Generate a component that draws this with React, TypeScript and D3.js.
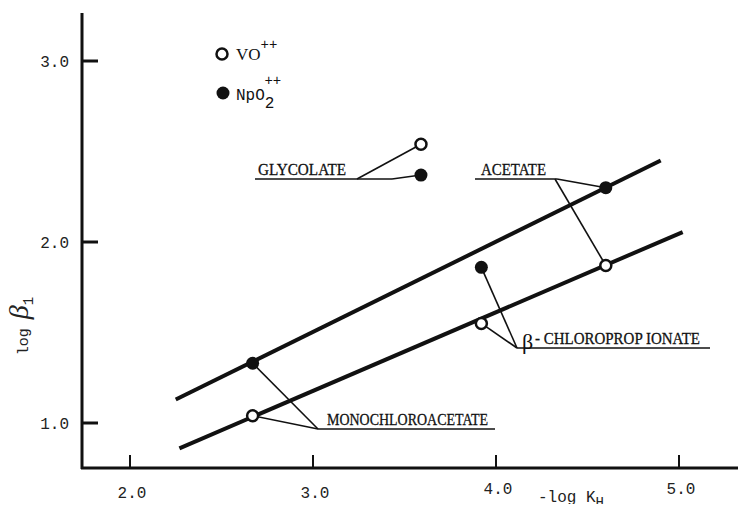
import { useRef, useEffect } from "react";
import * as d3 from "d3";

// ligands, -log K_H and log beta_1 for the two ions
const ligands = ["GLYCOLATE", "ACETATE", "CHLOROPROP", "MONOCHLOROACETATE"];
const pKH = [3.59, 4.6, 3.92, 2.67];
const logBetaVO = [2.54, 1.87, 1.55, 1.04];
const logBetaNp = [2.37, 2.3, 1.86, 1.33];

// the two fitted straight lines (end points)
const fitVO: [number, number][] = [
  [2.27, 0.86],
  [5.02, 2.055],
];
const fitNp: [number, number][] = [
  [2.25, 1.13],
  [4.9, 2.45],
];

const xTicks = [2, 3, 4, 5];
const yTicks = [1, 2, 3];

// label placement (pixels): underline, text start/width, where leaders start
const labelLayout: Record<
  string,
  { ux0: number; ux1: number; uy: number; tx: number; tw: number; np: [number, number]; vo: [number, number] }
> = {
  GLYCOLATE: { ux0: 255, ux1: 392, uy: 179, tx: 258, tw: 88, np: [392, 179], vo: [357, 179] },
  ACETATE: { ux0: 475, ux1: 557, uy: 179, tx: 481, tw: 65, np: [557, 179], vo: [555, 179] },
  CHLOROPROP: { ux0: 517, ux1: 710, uy: 348, tx: 535, tw: 165, np: [517, 348], vo: [517, 348] },
  MONOCHLOROACETATE: { ux0: 318, ux1: 495, uy: 429, tx: 327, tw: 161, np: [318, 429], vo: [318, 429] },
};

const MONO = "'Liberation Mono', 'DejaVu Sans Mono', monospace";
const SERIF = "'Liberation Serif', 'DejaVu Serif', serif";

const App = () => {
  const ref = useRef<SVGSVGElement | null>(null);

  useEffect(() => {
    const svg = d3.select(ref.current);
    svg.selectAll("*").remove();

    const x = d3.scaleLinear().domain([2, 5]).range([130, 679]);
    const y = d3.scaleLinear().domain([1, 3]).range([423, 61]);

    // axes
    svg.append("line").attr("x1", 82).attr("x2", 82).attr("y1", 13).attr("y2", 469)
      .attr("stroke", "#111").attr("stroke-width", 3);
    svg.append("line").attr("x1", 81).attr("x2", 746).attr("y1", 468).attr("y2", 468)
      .attr("stroke", "#111").attr("stroke-width", 3);

    xTicks.forEach((t) => {
      svg.append("line").attr("x1", x(t)).attr("x2", x(t)).attr("y1", 468).attr("y2", 455)
        .attr("stroke", "#111").attr("stroke-width", 2);
      svg.append("text").attr("x", x(t) + 2).attr("y", t < 4 ? 498 : 494).attr("text-anchor", "middle")
        .attr("font-family", MONO).attr("font-size", 16).attr("fill", "#222")
        .text(d3.format(".1f")(t));
    });
    yTicks.forEach((t) => {
      svg.append("line").attr("x1", 82).attr("x2", 98).attr("y1", y(t)).attr("y2", y(t))
        .attr("stroke", "#111").attr("stroke-width", 3);
      svg.append("text").attr("x", 69).attr("y", y(t) + 6).attr("text-anchor", "end")
        .attr("font-family", MONO).attr("font-size", 16).attr("fill", "#222")
        .text(d3.format(".1f")(t));
    });

    // x axis title
    const xt = svg.append("text").attr("x", 538).attr("y", 502)
      .attr("font-family", MONO).attr("font-size", 16).attr("fill", "#222");
    xt.append("tspan").text("-log K");
    xt.append("tspan").attr("dy", 5).attr("font-size", 14).text("H");

    // y axis title
    const yt = svg.append("text").attr("transform", "translate(28,326) rotate(-90)")
      .attr("text-anchor", "middle").attr("fill", "#222");
    yt.append("tspan").attr("font-family", MONO).attr("font-size", 15).text("log ");
    yt.append("tspan").attr("font-family", SERIF).attr("font-style", "italic")
      .attr("font-size", 28).text("β");
    yt.append("tspan").attr("font-family", MONO).attr("font-size", 14).attr("dy", 5).text("1");

    // fitted lines
    const line = d3.line<[number, number]>().x((d) => x(d[0])).y((d) => y(d[1]));
    [fitNp, fitVO].forEach((f) => {
      svg.append("path").attr("d", line(f)).attr("stroke", "#111")
        .attr("stroke-width", 4).attr("fill", "none");
    });

    // labels + leaders
    ligands.forEach((name, i) => {
      const L = labelLayout[name];
      const g = svg.append("g").attr("stroke", "#111").attr("stroke-width", 1.6).attr("fill", "none");
      g.append("line").attr("x1", L.ux0).attr("x2", L.ux1).attr("y1", L.uy).attr("y2", L.uy);
      g.append("line").attr("x1", L.np[0]).attr("y1", L.np[1])
        .attr("x2", x(pKH[i])).attr("y2", y(logBetaNp[i]));
      g.append("line").attr("x1", L.vo[0]).attr("y1", L.vo[1])
        .attr("x2", x(pKH[i])).attr("y2", y(logBetaVO[i]));

      const label = name === "CHLOROPROP" ? "- CHLOROPROP IONATE" : name;
      svg.append("text").attr("x", L.tx).attr("y", L.uy - 4)
        .attr("font-family", SERIF).attr("font-size", 17).attr("fill", "#111")
        .attr("stroke", "#111").attr("stroke-width", 0.3)
        .attr("textLength", L.tw).attr("lengthAdjust", "spacingAndGlyphs")
        .text(label);
      if (name === "CHLOROPROP") {
        svg.append("text").attr("x", L.tx - 13).attr("y", L.uy + 1)
          .attr("font-family", SERIF).attr("font-size", 22).attr("fill", "#111")
          .text("β");
      }
    });

    // points
    svg.append("g").selectAll("circle").data(pKH).join("circle")
      .attr("cx", (d) => x(d)).attr("cy", (_d, i) => y(logBetaNp[i]))
      .attr("r", 6.5).attr("fill", "#111");
    svg.append("g").selectAll("circle").data(pKH).join("circle")
      .attr("cx", (d) => x(d)).attr("cy", (_d, i) => y(logBetaVO[i]))
      .attr("r", 5.5).attr("fill", "#fff").attr("stroke", "#111").attr("stroke-width", 2.5);

    // legend
    svg.append("circle").attr("cx", 222).attr("cy", 54).attr("r", 5.5)
      .attr("fill", "#fff").attr("stroke", "#111").attr("stroke-width", 2.5);
    const l1 = svg.append("text").attr("x", 236).attr("y", 60).attr("fill", "#111");
    l1.append("tspan").attr("font-family", SERIF).attr("font-size", 17).text("VO");
    l1.append("tspan").attr("font-family", MONO).attr("font-size", 14).attr("dy", -11).text("++");

    svg.append("circle").attr("cx", 223).attr("cy", 93).attr("r", 6.5).attr("fill", "#111");
    const l2 = svg.append("text").attr("x", 236).attr("y", 100).attr("fill", "#111")
      .attr("font-family", MONO);
    l2.append("tspan").attr("font-size", 16).text("NpO");
    l2.append("tspan").attr("font-size", 16).attr("dy", 8).text("2");
    l2.append("tspan").attr("font-size", 14).attr("dx", -10).attr("dy", -23).text("++");
  }, []);

  return <svg ref={ref} width={746} height={512} style={{ display: "block", margin: -8, background: "#fff" }} />;
};

export default App;
